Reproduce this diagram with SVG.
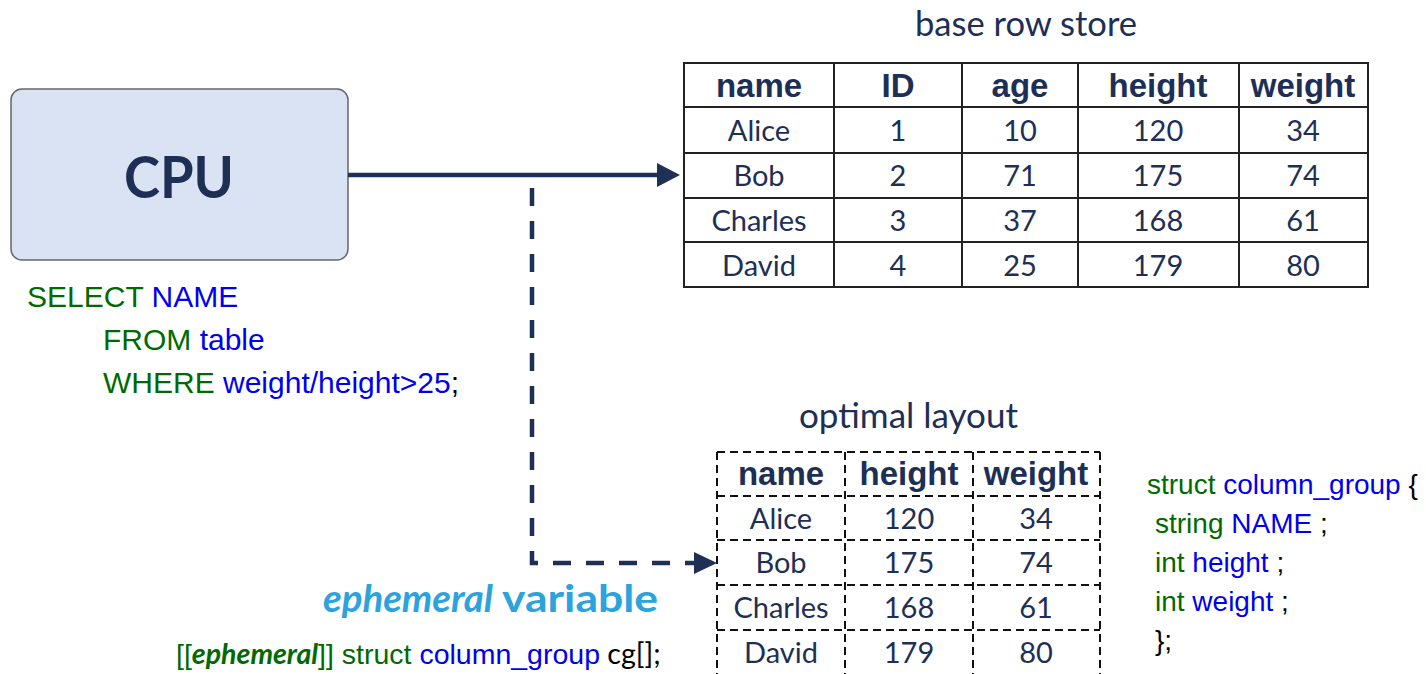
<svg xmlns="http://www.w3.org/2000/svg" width="1426" height="674" viewBox="0 0 1426 674">
<style>
.hd{font-family:"Liberation Sans",Arial,sans-serif;font-weight:bold;font-size:33px;fill:#1e2f56;text-anchor:middle}
.cl{font-family:Lato,"Open Sans",sans-serif;font-size:29px;fill:#1e2f56;text-anchor:middle}
.ttl{font-family:Lato,"Open Sans",sans-serif;font-size:34px;fill:#1e2f56}
.code{font-family:"Liberation Sans",Arial,sans-serif;font-size:30px}
.st{font-family:"Liberation Sans",Arial,sans-serif;font-size:28px}
.g{fill:#006a00}.b{fill:#0000ee}.k{fill:#000}
.grid{stroke:#222;stroke-width:2;fill:none}
.dgrid{stroke:#111;stroke-width:2;fill:none;stroke-dasharray:8 5}
.conn{stroke:#1f3057;stroke-width:4.5;fill:none}
.ah{fill:#1f3057}
</style>

<g id="cpu">
  <rect x="11" y="89" width="337" height="171" rx="11" ry="11" fill="#dae3f3" stroke="#666" stroke-width="1.5"/>
  <text x="179" y="198" text-anchor="middle" font-family="Lato,'Open Sans',sans-serif" font-weight="bold" font-size="58" fill="#1e2f56" textLength="110" lengthAdjust="spacingAndGlyphs">CPU</text>
</g>

<g id="sql">
  <text class="code" x="27" y="307"><tspan class="g">SELECT </tspan><tspan class="b">NAME</tspan></text>
  <text class="code" x="103" y="350"><tspan class="g">FROM </tspan><tspan class="b">table</tspan></text>
  <text class="code" x="103" y="393"><tspan class="g">WHERE </tspan><tspan class="b">weight/height&gt;25</tspan><tspan class="k">;</tspan></text>
</g>

<g id="base-row-store">
  <text class="ttl" x="915" y="36" textLength="222" lengthAdjust="spacingAndGlyphs">base row store</text>
  <rect class="grid" x="684" y="63" width="684" height="224"/>
  <path class="grid" d="M684 107H1368M684 153H1368M684 198H1368M684 242H1368M834 63V287M962 63V287M1078 63V287M1239 63V287"/>
  <text class="hd" x="759" y="97">name</text>
  <text class="hd" x="898" y="97">ID</text>
  <text class="hd" x="1020" y="97">age</text>
  <text class="hd" x="1158" y="97">height</text>
  <text class="hd" x="1303" y="97">weight</text>
  <text class="cl" x="759" y="141">Alice</text><text class="cl" x="898" y="141">1</text><text class="cl" x="1020" y="141">10</text><text class="cl" x="1158" y="141">120</text><text class="cl" x="1303" y="141">34</text>
  <text class="cl" x="759" y="186">Bob</text><text class="cl" x="898" y="186">2</text><text class="cl" x="1020" y="186">71</text><text class="cl" x="1158" y="186">175</text><text class="cl" x="1303" y="186">74</text>
  <text class="cl" x="759" y="231">Charles</text><text class="cl" x="898" y="231">3</text><text class="cl" x="1020" y="231">37</text><text class="cl" x="1158" y="231">168</text><text class="cl" x="1303" y="231">61</text>
  <text class="cl" x="759" y="276">David</text><text class="cl" x="898" y="276">4</text><text class="cl" x="1020" y="276">25</text><text class="cl" x="1158" y="276">179</text><text class="cl" x="1303" y="276">80</text>
</g>

<g id="optimal-layout">
  <text class="ttl" x="799" y="428" textLength="219" lengthAdjust="spacingAndGlyphs">optimal layout</text>
  <path class="dgrid" d="M717 452H1100M717 496H1100M717 540H1100M717 585H1100M717 630H1100M717 676H1100M717 452V676M845 452V676M973 452V676M1100 452V676"/>
  <text class="hd" x="781" y="485">name</text>
  <text class="hd" x="909" y="485">height</text>
  <text class="hd" x="1036" y="485">weight</text>
  <text class="cl" x="781" y="529">Alice</text><text class="cl" x="909" y="529">120</text><text class="cl" x="1036" y="529">34</text>
  <text class="cl" x="781" y="573">Bob</text><text class="cl" x="909" y="573">175</text><text class="cl" x="1036" y="573">74</text>
  <text class="cl" x="781" y="618">Charles</text><text class="cl" x="909" y="618">168</text><text class="cl" x="1036" y="618">61</text>
  <text class="cl" x="781" y="663">David</text><text class="cl" x="909" y="663">179</text><text class="cl" x="1036" y="663">80</text>
</g>

<g id="struct-def">
  <text class="st" x="1147" y="494"><tspan class="g">struct </tspan><tspan class="b">column_group</tspan><tspan class="k"> {</tspan></text>
  <text class="st" x="1155" y="533"><tspan class="g">string </tspan><tspan class="b">NAME</tspan><tspan class="k"> ;</tspan></text>
  <text class="st" x="1155" y="572"><tspan class="g">int </tspan><tspan class="b">height</tspan><tspan class="k"> ;</tspan></text>
  <text class="st" x="1155" y="611"><tspan class="g">int </tspan><tspan class="b">weight</tspan><tspan class="k"> ;</tspan></text>
  <text class="st k" x="1155" y="650">};</text>
</g>

<g id="ephemeral">
  <text font-family="Lato,'Open Sans',sans-serif" font-weight="bold" font-size="38" fill="#2ba3dc" y="612"><tspan x="323" font-style="italic" textLength="170" lengthAdjust="spacingAndGlyphs">ephemeral</tspan><tspan x="502" textLength="156" lengthAdjust="spacingAndGlyphs">variable</tspan></text>
  <text font-family="'Liberation Sans',Arial,sans-serif" font-size="28.5" x="176" y="664"><tspan class="g">[[</tspan><tspan class="g" font-family="Lato,'Open Sans',sans-serif" font-weight="bold" font-style="italic">ephemeral</tspan><tspan class="g">]] struct </tspan><tspan class="b">column_group</tspan><tspan class="k" font-family="Lato,'Open Sans',sans-serif"> cg[];</tspan></text>
</g>

<g id="connectors">
  <path class="conn" d="M348 175H659"/>
  <polygon class="ah" points="657,163 680,175 657,187"/>
  <path class="conn" d="M532 188V563H695" stroke-dasharray="18 15"/>
  <polygon class="ah" points="694,552 717,563 694,574"/>
</g>
</svg>
